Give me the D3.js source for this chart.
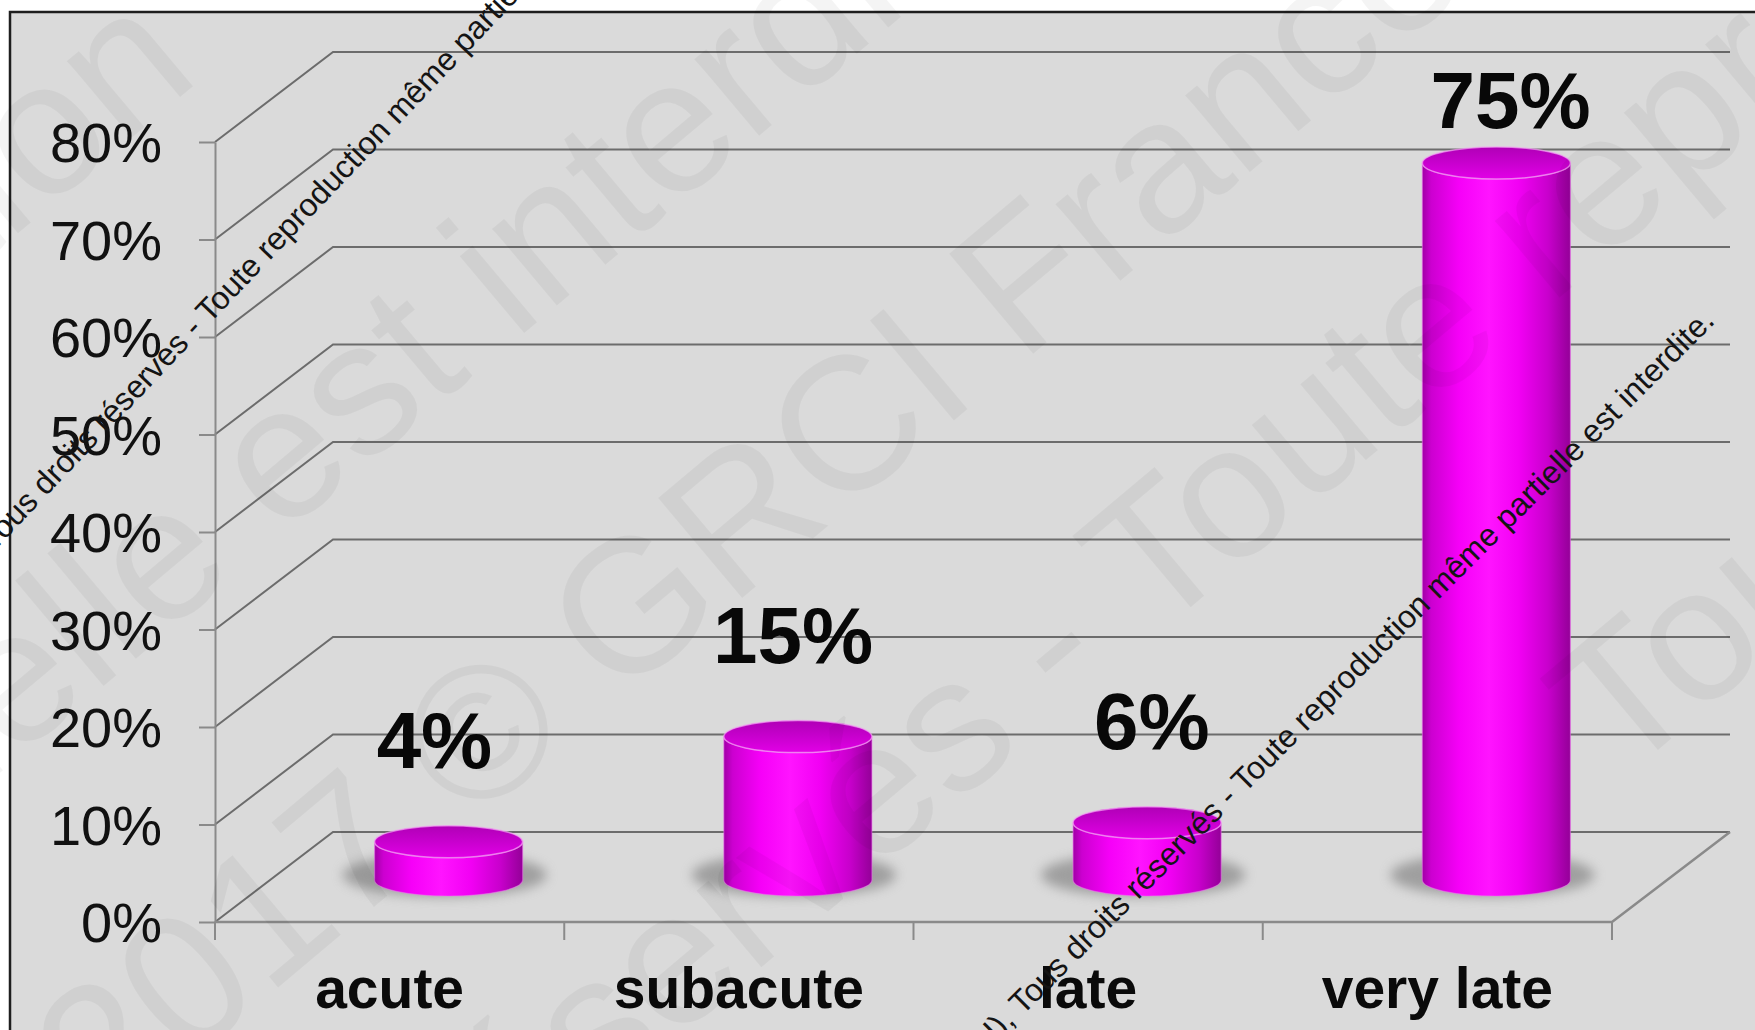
<!DOCTYPE html>
<html><head><meta charset="utf-8">
<script src="https://cdn.jsdelivr.net/npm/d3@7"></script>
<style>body{margin:0;background:#fff}svg{display:block}</style>
</head><body>
<svg id="c" width="1755" height="1030"></svg>
<script>
// ---- data ----
const categories = ["acute", "subacute", "late", "very late"];
const values = [0.04, 0.15, 0.06, 0.75];
const valueLabels = ["4%", "15%", "6%", "75%"];
const yTickValues = [0, 0.1, 0.2, 0.3, 0.4, 0.5, 0.6, 0.7, 0.8];
const yTickLabels = ["0%", "10%", "20%", "30%", "40%", "50%", "60%", "70%", "80%"];
const watermarkSmall1 = "Tous droits réservés - Toute reproduction même partielle est interdite.";
const watermarkSmall2 = "(GRCI), Tous droits réservés - Toute reproduction même partielle est interdite.";
const watermarkBig = ["reproduction", "partielle est interdite", "2017 © GRCI France", "réservés - Toute reproduction", "Tous droits"];

// ---- layout ----
const svg = d3.select("#c");
const defs = svg.append("defs");
const FONT = "'Liberation Sans', Arial, sans-serif";
const depth = {dx: 118, dy: -90};

svg.append("rect").attr("x", 10).attr("y", 12).attr("width", 1800).attr("height", 1100)
  .attr("fill", "#dadada").attr("stroke", "#1e1e1e").attr("stroke-width", 2.5);

const x = d3.scaleBand().domain(categories).range([215, 1612]);
const bw = x.bandwidth();
const yFront = d3.scaleLinear().domain([0, 0.8]).range([922, 142]);
const yBack = v => yFront(v) + depth.dy;
const yMid = d3.scaleLinear().domain([0, 0.8]).range([880, 880 - 0.8 * 956]);

// gridlines: left wall diagonal + back wall horizontal
const grid = svg.append("g").attr("fill", "none").attr("stroke", "#6c6c6c").attr("stroke-width", 2);
yTickValues.forEach(v => {
  const x0 = x.range()[0], x1 = x.range()[1];
  grid.append("path").attr("d", `M${x0},${yFront(v)}L${x0 + depth.dx},${yBack(v)}L${x1 + depth.dx},${yBack(v)}`);
});

// floor front edge + right diagonal
const axisCol = "#8a8a8a";
svg.append("path").attr("fill", "none").attr("stroke", axisCol).attr("stroke-width", 2.5)
  .attr("d", `M${x.range()[0]},${yFront(0)}L${x.range()[1]},${yFront(0)}L${x.range()[1] + depth.dx},${yBack(0)}`);

// y axis
const yAxis = d3.axisLeft(yFront).tickValues(yTickValues)
  .tickFormat((d, i) => yTickLabels[i]).tickSize(16).tickSizeOuter(0).tickPadding(37);
const ya = svg.append("g").attr("transform", `translate(${x.range()[0]},0)`).call(yAxis);
ya.select(".domain").attr("stroke", axisCol).attr("stroke-width", 2);
ya.selectAll(".tick line").attr("stroke", axisCol).attr("stroke-width", 2);
ya.selectAll(".tick text").attr("font-family", FONT).attr("font-size", 56).attr("fill", "#111").attr("dy", "0.35em");

// x axis ticks at band boundaries
const bounds = categories.map(c => x(c)).concat([x.range()[1]]);
svg.append("g").selectAll("line").data(bounds).join("line")
  .attr("x1", d => d).attr("x2", d => d).attr("y1", yFront(0)).attr("y2", yFront(0) + 18)
  .attr("stroke", axisCol).attr("stroke-width", 2);
svg.append("g").selectAll("text").data(categories).join("text")
  .attr("x", d => x(d) + bw / 2).attr("y", 1008).attr("text-anchor", "middle")
  .attr("font-family", FONT).attr("font-weight", "bold").attr("font-size", 57).attr("fill", "#0a0a0a")
  .text(d => d);

// ---- cylinders ----
const blur = defs.append("filter").attr("id", "blur").attr("x", "-50%").attr("y", "-50%").attr("width", "200%").attr("height", "200%");
blur.append("feGaussianBlur").attr("stdDeviation", 6);
const sideG = defs.append("linearGradient").attr("id", "side").attr("x1", 0).attr("x2", 1).attr("y1", 0).attr("y2", 0);
[[0, "#a000a6"], [0.06, "#cc00d0"], [0.25, "#f600f8"], [0.45, "#ff14ff"], [0.65, "#f200f4"], [0.85, "#c800cc"], [1, "#940098"]]
  .forEach(([o, c]) => sideG.append("stop").attr("offset", o).attr("stop-color", c));
const topG = defs.append("linearGradient").attr("id", "top").attr("x1", 0).attr("x2", 0).attr("y1", 0).attr("y2", 1);
[[0, "#b000b6"], [0.5, "#c800ce"], [1, "#e200e6"]]
  .forEach(([o, c]) => topG.append("stop").attr("offset", o).attr("stop-color", c));

const rx = bw * 0.212, ry = 16;
const persp = {cx: 974, k: 1.027};   // slight perspective spread of the data labels
const cyl = svg.append("g");
categories.forEach((c, i) => {
  const v = values[i];
  const cx = x(c) + bw / 2 + depth.dx / 2;
  const yb = yMid(0), yt = yMid(v);
  cyl.append("ellipse").attr("cx", cx - 4).attr("cy", yb - 5).attr("rx", rx + 28).attr("ry", 22)
    .attr("fill", "#787878").attr("opacity", 0.6).attr("filter", "url(#blur)");
  cyl.append("path")
    .attr("d", `M${cx - rx},${yt}L${cx - rx},${yb}A${rx},${ry} 0 0 0 ${cx + rx},${yb}L${cx + rx},${yt}A${rx},${ry} 0 0 1 ${cx - rx},${yt}Z`)
    .attr("fill", "url(#side)").attr("stroke", "#f070f0").attr("stroke-width", 1.2).attr("stroke-opacity", 0.5);
  cyl.append("ellipse").attr("cx", cx).attr("cy", yt).attr("rx", rx).attr("ry", ry)
    .attr("fill", "url(#top)").attr("stroke", "#f4a0f4").attr("stroke-width", 1.5).attr("stroke-opacity", 0.7);
  svg.append("text").attr("x", persp.cx + (cx - persp.cx) * persp.k).attr("y", Math.max(yt - ry - 58, 128))
    .attr("text-anchor", "middle").attr("font-family", FONT).attr("font-weight", "bold")
    .attr("font-size", 80).attr("fill", "#080808").text(valueLabels[i]);
});

// ---- watermarks ----
function placeText(g, str, sub, tx, ty, angle, size, fill, opacity) {
  const t = g.append("text").attr("font-family", FONT).attr("font-size", size)
    .attr("fill", fill).attr("opacity", opacity).text(str);
  const node = t.node();
  const idx = str.indexOf(sub);
  const s = node.getStartPositionOfChar(idx).x;
  const e = node.getEndPositionOfChar(idx + sub.length - 1).x;
  t.attr("x", -(s + e) / 2).attr("y", 0.36 * size)
    .attr("transform", `translate(${tx},${ty}) rotate(${angle})`);
}
const wm = svg.append("g");
const bigTargets = [["n", 118, 60], ["inter", 612, 170], ["GRCI", 755, 498], ["Toute", 1287, 437], ["Tous", 1730, 600]];
watermarkBig.forEach((s, i) => placeText(wm, s, bigTargets[i][0], bigTargets[i][1], bigTargets[i][2], -40, 190, "#000", 0.038));
placeText(wm, watermarkSmall1, "Toute", 228, 288, -46.5, 32, "#141414", 1);
placeText(wm, watermarkSmall2, "Toute", 1264, 758, -45, 32, "#141414", 1);
</script>
</body></html>
